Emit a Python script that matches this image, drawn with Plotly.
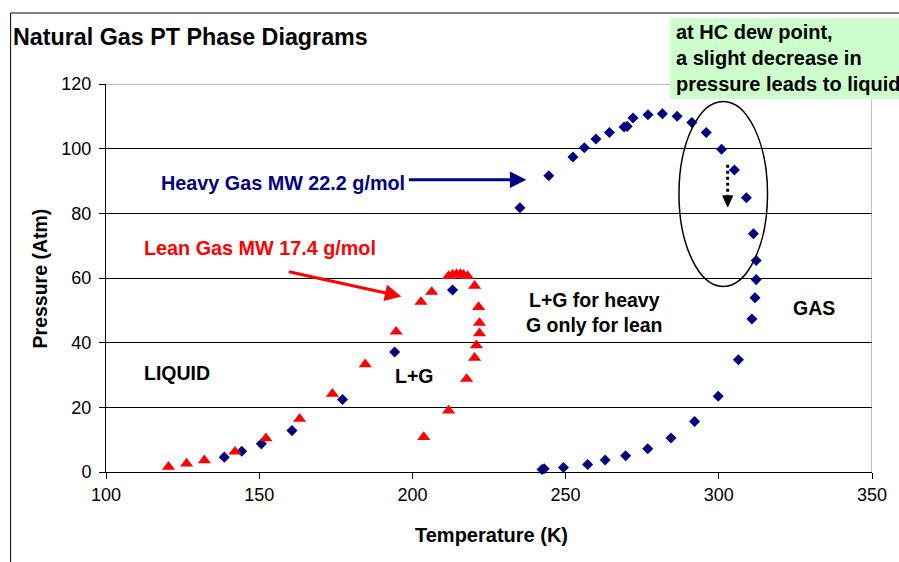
import plotly.graph_objects as go

# ---- data ----
heavy_T = [138.6, 144.3, 150.7, 160.7, 177.2, 194.2, 213.1, 235.1, 244.5, 252.4,
           256.1, 259.9, 264.3, 269.1, 270.1, 272.0, 276.9, 281.6, 286.4, 291.2,
           295.9, 300.9, 305.1, 309.0, 311.3, 312.2, 312.2, 311.8, 310.8, 306.4,
           299.8, 292.1, 284.4, 276.8, 269.6, 262.9, 257.2, 249.3, 243.0, 242.3]
heavy_P = [4.6, 6.4, 8.7, 12.8, 22.4, 37.1, 56.3, 81.7, 91.6, 97.4,
           100.3, 103.0, 105.0, 106.7, 106.9, 109.5, 110.5, 110.8, 110.0, 108.1,
           105.0, 99.8, 93.4, 84.8, 73.7, 65.4, 59.5, 53.9, 47.3, 34.7,
           23.4, 15.6, 10.5, 7.2, 5.0, 3.7, 2.3, 1.4, 1.0, 0.8]

lean_T = [120.4, 126.3, 132.1, 142.1, 152.2, 163.2, 173.9, 184.6, 194.7, 202.8,
          206.3, 211.8, 213.1, 214.4, 215.7, 216.7, 218.0, 220.3, 221.6, 221.9,
          221.9, 220.9, 220.3, 217.7, 211.8, 203.7]
lean_P = [1.6, 2.6, 3.6, 6.3, 10.4, 16.4, 24.2, 33.3, 43.4, 52.6,
          55.7, 60.6, 61.0, 61.2, 61.2, 61.0, 60.6, 57.6, 51.0, 46.1,
          42.9, 39.2, 35.3, 28.8, 19.0, 10.8]

x_ticks = [100, 150, 200, 250, 300, 350]
y_ticks = [0, 20, 40, 60, 80, 100, 120]

FONT = "Liberation Sans, Arial, sans-serif"
NAVY = "#000080"
RED = "#FF0000"

# plot area in pixels
L, R, T, B = 106, 877, 84, 472
W, H = 899, 562


def px(xp):
    return (xp - L) / (R - L)


def py(yp):
    return (B - yp) / (B - T)


fig = go.Figure()
fig.add_trace(go.Scatter(x=heavy_T, y=heavy_P, mode="markers", name="Heavy Gas",
                         marker=dict(symbol="diamond", size=8.5, color=NAVY),
                         cliponaxis=False))
fig.add_trace(go.Scatter(x=lean_T, y=lean_P, mode="markers", name="Lean Gas",
                         marker=dict(symbol="triangle-up", size=11.5, color=RED),
                         cliponaxis=False))

shapes = [
    # chart outer border (left + top)
    dict(type="line", xref="paper", yref="paper", x0=px(10), x1=px(10), y0=py(13), y1=py(565),
         line=dict(color="black", width=1)),
    dict(type="line", xref="paper", yref="paper", x0=px(10), x1=px(905), y0=py(13), y1=py(13),
         line=dict(color="black", width=1)),
    # plot area border (gray) top and right
    dict(type="line", xref="x", yref="y", x0=100, x1=350, y0=120, y1=120,
         line=dict(color="#808080", width=1), layer="above"),
    dict(type="line", xref="x", yref="y", x0=350, x1=350, y0=0, y1=120,
         line=dict(color="#808080", width=1), layer="above"),
    # ellipse around dew point
    dict(type="circle", xref="x", yref="y", x0=287.0, x1=315.9, y0=57.4, y1=114.6,
         line=dict(color="black", width=1.5)),
    # dotted arrow
    dict(type="line", xref="x", yref="y", x0=302.9, x1=302.9, y0=95.0, y1=85.5,
         line=dict(color="black", width=3, dash="dot")),
    dict(type="path", xref="x", yref="y", path="M 301.3,85.4 L 304.5,85.4 L 302.9,82.0 Z",
         fillcolor="black", line=dict(color="black", width=1)),
    # green note box
    dict(type="rect", xref="paper", yref="paper", x0=px(674), x1=px(910), y0=py(99.3), y1=py(18.3),
         fillcolor="#CCFFCC", line=dict(width=0), layer="above"),
]

ann = [
    dict(text="<b>Natural Gas PT Phase Diagrams</b>", xref="paper", yref="paper",
         x=px(10), y=py(37), xanchor="left", yanchor="middle", showarrow=False,
         font=dict(size=23.3, color="black", family=FONT)),
    dict(text="<b>at HC dew point,<br>a slight decrease in<br>pressure leads to liquid</b>",
         xref="paper", yref="paper", x=px(678), y=py(58), xanchor="left", yanchor="middle",
         align="left", showarrow=False, font=dict(size=20, color="black", family=FONT)),
    dict(text="<b>Temperature (K)</b>", xref="paper", yref="paper", x=px(494), y=py(535),
         xanchor="center", yanchor="middle", showarrow=False,
         font=dict(size=20, color="black", family=FONT)),
    dict(text="<b>Pressure (Atm)</b>", xref="paper", yref="paper", x=px(40), y=0.5,
         xanchor="center", yanchor="middle", textangle=-90, showarrow=False,
         font=dict(size=19.5, color="black", family=FONT)),
    dict(text="<b>Heavy Gas MW 22.2 g/mol</b>", xref="paper", yref="paper", x=px(159.5),
         y=py(183), xanchor="left", yanchor="middle", showarrow=False,
         font=dict(size=19.8, color=NAVY, family=FONT)),
    dict(text="<b>Lean Gas MW 17.4 g/mol</b>", xref="paper", yref="paper", x=px(142.5),
         y=py(248), xanchor="left", yanchor="middle", showarrow=False,
         font=dict(size=19.8, color=RED, family=FONT)),
    dict(text="<b>L+G for heavy<br>G only for lean</b>", xref="paper", yref="paper",
         x=px(598), y=py(312.5), xanchor="center", yanchor="middle", align="center",
         showarrow=False, font=dict(size=19.5, color="black", family=FONT)),
    dict(text="<b>GAS</b>", xref="paper", yref="paper", x=px(819), y=py(308),
         xanchor="center", yanchor="middle", showarrow=False,
         font=dict(size=19.5, color="black", family=FONT)),
    dict(text="<b>LIQUID</b>", xref="paper", yref="paper", x=px(177.5), y=py(373),
         xanchor="center", yanchor="middle", showarrow=False,
         font=dict(size=19.5, color="black", family=FONT)),
    dict(text="<b>L+G</b>", xref="paper", yref="paper", x=px(416), y=py(376),
         xanchor="center", yanchor="middle", showarrow=False,
         font=dict(size=19.5, color="black", family=FONT)),
    # arrows
    dict(text="", x=237.2, y=90.4, xref="x", yref="y", ax=-119, ay=0,
         showarrow=True, arrowhead=2, arrowsize=1.1, arrowwidth=3, arrowcolor=NAVY),
    dict(text="", x=196.4, y=54.3, xref="x", yref="y", ax=-114, ay=-25,
         showarrow=True, arrowhead=2, arrowsize=1.1, arrowwidth=3, arrowcolor=RED),
]

fig.update_layout(
    width=W, height=H,
    margin=dict(l=L, r=W - R, t=T, b=H - B, pad=0),
    paper_bgcolor="white", plot_bgcolor="white",
    showlegend=False,
    font=dict(family=FONT, color="black"),
    shapes=shapes, annotations=ann,
    xaxis=dict(range=[100, 350], tickvals=x_ticks, ticks="outside", ticklen=6,
               tickcolor="black", showline=True, linecolor="black", linewidth=1,
               showgrid=False, zeroline=False, tickfont=dict(size=18, color="black")),
    yaxis=dict(range=[0, 120], tickvals=y_ticks, ticks="outside", ticklen=6,
               tickcolor="black", showline=True, linecolor="black", linewidth=1,
               showgrid=True, gridcolor="black", gridwidth=1, zeroline=False,
               ticklabelstandoff=4,
               tickfont=dict(size=18, color="black")),
)

fig.write_html("out.html", config={"displayModeBar": False},
               post_script="document.body.style.margin='0';document.body.style.overflow='hidden';")
